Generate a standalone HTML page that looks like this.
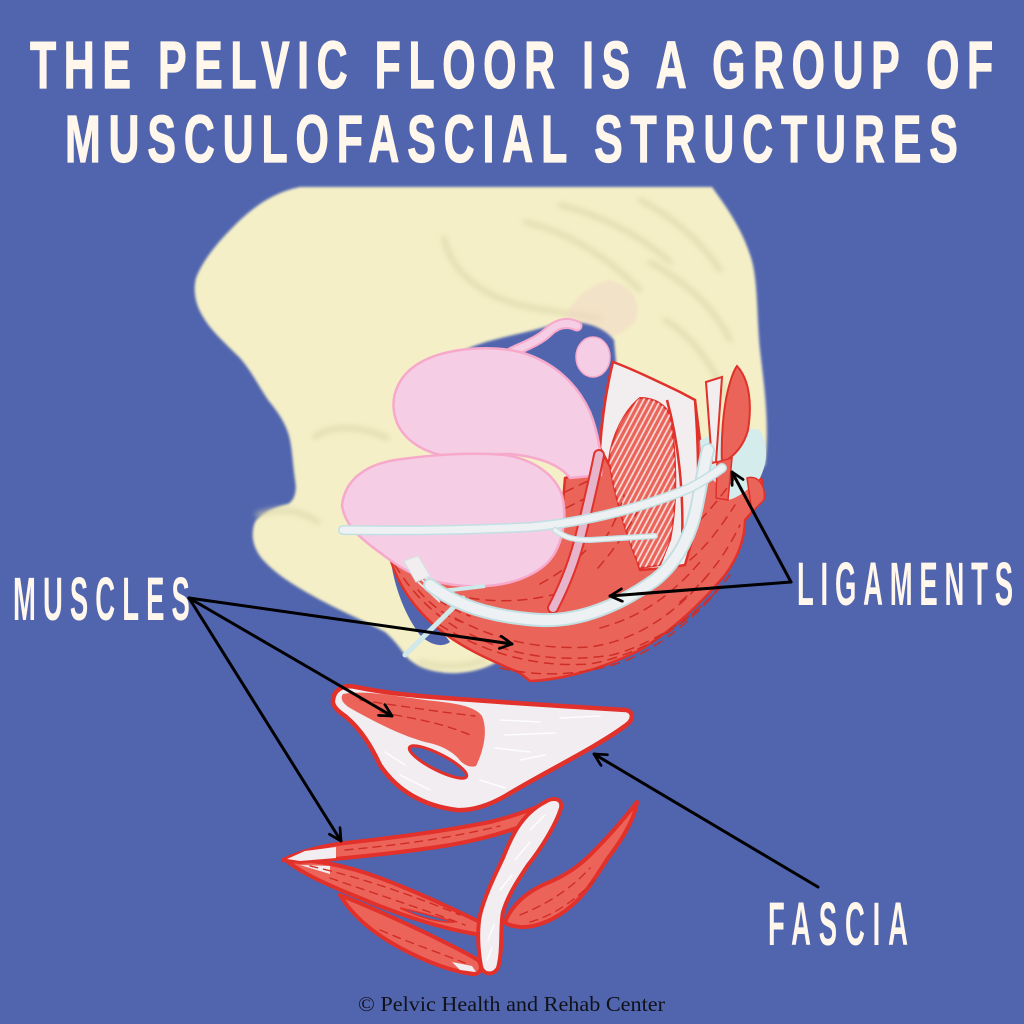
<!DOCTYPE html>
<html><head><meta charset="utf-8"><style>
html,body{margin:0;padding:0;background:#5165AF;}
svg{display:block;}
</style></head><body>
<svg width="1024" height="1024" viewBox="0 0 1024 1024" xmlns="http://www.w3.org/2000/svg">
<defs>
<filter id="blur" x="-20%" y="-20%" width="140%" height="140%"><feGaussianBlur stdDeviation="3"/></filter>
<filter id="soft" x="-5%" y="-5%" width="110%" height="110%"><feGaussianBlur stdDeviation="1.2"/></filter>
<marker id="ah" viewBox="0 0 12 12" refX="11" refY="6" markerWidth="15" markerHeight="15" orient="auto" markerUnits="userSpaceOnUse">
<path d="M1.5,1 L11,6 L1.5,11" fill="none" stroke="#000" stroke-width="2.2" stroke-linecap="round" stroke-linejoin="round"/>
</marker>
<pattern id="hatch" width="5" height="5" patternUnits="userSpaceOnUse" patternTransform="rotate(28)">
<line x1="1" y1="0" x2="1" y2="5" stroke="#FBF3F3" stroke-width="1.7"/>
</pattern>
<clipPath id="fanclip"><path d="M640,398 C655,398 665,405 670,415 C676,450 678,500 670,540 L660,565 L640,568 C628,540 615,500 609,460 C612,435 625,410 640,398 Z"/></clipPath>
</defs>

<rect width="1024" height="1024" fill="#5165AF"/>

<!-- Bone -->
<path d="M300,187 L712,187 C725,205 745,232 753,265 C758,290 757,320 760,350 C764,385 770,425 765,465 L700,520 L560,640 L497,662 C480,672 455,675 440,672 C425,670 412,664 405,655 C398,645 392,638 385,632 C370,624 350,615 330,605 C305,592 280,578 265,562 C253,550 250,535 255,522 C262,512 275,507 288,504 C295,500 297,490 295,480 C293,465 292,450 290,440 C287,425 278,412 268,400 C258,385 252,372 240,358 C225,343 210,330 202,315 C195,303 193,290 196,278 C202,262 215,245 235,225 C255,205 275,192 300,187 Z" fill="#F4EFC6" filter="url(#soft)"/>

<!-- bone shading -->
<g fill="none" stroke="#DCD5AA" stroke-width="5" stroke-linecap="round" opacity="0.75" filter="url(#blur)">
<path d="M444,238 C450,270 480,295 520,305 C550,312 580,315 600,318"/>
<path d="M525,222 C560,230 600,250 640,290"/>
<path d="M560,205 C600,215 640,235 670,262"/>
<path d="M640,200 C670,215 700,240 720,270"/>
<path d="M650,262 C680,280 710,300 730,340"/>
<path d="M665,320 C690,335 712,362 728,400"/>
<path d="M315,437 C330,425 360,425 387,438"/>
<path d="M258,515 C280,507 300,510 318,522"/>
<path d="M420,662 C440,668 465,668 485,660"/>
</g>

<!-- faint uterus ghost -->
<path d="M560,336 C565,305 585,285 610,280 C630,285 642,300 636,320 C626,336 600,340 580,342 Z" fill="#F2D8C8" opacity="0.55" filter="url(#soft)"/>

<!-- blue hole -->
<path d="M462,352 C480,340 520,335 548,326 C570,318 600,322 614,340 L616,362 C608,385 603,410 600,445 L560,440 L470,380 Z" fill="#5165AF" filter="url(#soft)"/>

<!-- blue gap near pubis -->
<path d="M392,568 C396,590 405,615 420,635 C430,645 442,648 450,642 C440,628 425,610 412,592 C402,580 396,572 392,568 Z" fill="#5165AF"/>

<!-- Red base muscle -->
<path d="M390,558 C398,585 415,610 440,630 C465,650 495,662 520,673 L530,681 C560,680 600,670 640,650 C670,632 700,605 725,575 C740,555 745,535 745,520 C755,510 764,495 762,480 L740,462 L700,440 L695,400 L640,380 L613,362 C607,385 602,415 600,445 L598,470 L565,478 L560,540 L530,575 L470,588 L413,570 Z" fill="#EB6459" stroke="#E0312A" stroke-width="2.5" stroke-linejoin="round"/>

<!-- white fascia (obturator) region -->
<path d="M613,362 C630,368 655,380 680,392 L695,400 C698,440 700,490 695,530 L685,565 L665,568 L640,570 L612,470 L600,448 C602,420 606,390 613,362 Z" fill="#F2EEF0" stroke="#E0312A" stroke-width="2.5" stroke-linejoin="round"/>
<path d="M667,400 C678,440 684,490 682,545" fill="none" stroke="#E0312A" stroke-width="2.5"/>
<!-- fan -->
<path d="M640,398 C655,398 665,405 670,415 C676,450 678,500 670,540 L660,565 L640,568 C628,540 615,500 609,460 C612,435 625,410 640,398 Z" fill="#EB6459" stroke="#E0312A" stroke-width="2"/>
<rect x="600" y="390" width="90" height="185" fill="url(#hatch)" clip-path="url(#fanclip)" opacity="0.85"/>

<!-- light blue region right -->
<path d="M700,440 C715,432 740,425 760,430 C768,445 768,462 760,478 C748,490 738,498 728,500 C722,488 712,478 702,470 Z" fill="#D5ECEC"/>
<!-- narrow muscles right -->
<path d="M706,382 L722,377 L716,462 L712,463 Z" fill="#F2EEF0" stroke="#E0312A" stroke-width="2"/>
<path d="M737,366 C750,380 752,405 748,430 C744,445 735,456 722,463 C721,440 723,410 728,390 C731,378 734,370 737,366 Z" fill="#EB6459" stroke="#E0312A" stroke-width="2"/>
<path d="M717,462 L732,458 L728,500 L716,498 Z" fill="#EB6459" stroke="#E0312A" stroke-width="1.5"/>
<path d="M747,478 C758,475 766,485 764,500 L752,512 Z" fill="#EB6459" stroke="#E0312A" stroke-width="1.5"/>

<!-- red fibers -->
<g fill="none" stroke="#CE2E26" stroke-width="1.5" stroke-dasharray="9 7" stroke-linecap="round">
<path d="M440,625 C480,650 530,668 590,664 C640,655 690,625 725,580"/>
<path d="M455,618 C495,640 540,650 590,647 C640,640 680,610 712,570"/>
<path d="M470,634 C510,656 560,663 612,655 C650,645 690,620 718,590"/>
<path d="M500,668 C540,677 580,676 622,662 C660,648 700,615 730,575"/>
<path d="M600,628 C640,617 670,597 700,562"/>
<path d="M680,602 C705,582 725,556 740,525"/>
<path d="M395,565 C410,590 430,612 460,630"/>
<path d="M405,566 C420,586 440,606 470,616"/>
<path d="M418,590 C430,604 445,616 462,622"/>
<path d="M470,598 C500,603 530,601 560,593"/>
<path d="M540,584 C560,573 575,562 590,546"/>
<path d="M598,568 C615,548 630,528 642,502"/>
<path d="M604,540 C614,525 620,510 624,495"/>
<path d="M565,492 L590,480"/>
<path d="M566,508 L588,497"/>
<path d="M565,524 L585,513"/>
<path d="M700,520 C715,505 725,490 735,478"/>
<path d="M690,560 C708,545 722,525 735,505"/>
</g>

<!-- pink tube + ovary -->
<path d="M512,352 C525,346 540,340 548,332 C556,324 566,321 577,326" fill="none" stroke="#F6A9CB" stroke-width="11" stroke-linecap="round"/>
<path d="M512,352 C525,346 540,340 548,332 C556,324 566,321 577,326" fill="none" stroke="#F5CDE4" stroke-width="7" stroke-linecap="round"/>
<ellipse cx="593" cy="357" rx="17" ry="20" fill="#F5CDE4" stroke="#F6A9CB" stroke-width="1.5"/>

<!-- pink organs -->
<path d="M396,420 C388,395 400,372 425,360 C450,348 490,345 520,352 C555,362 578,385 590,412 C598,432 602,455 601,475 L570,478 C560,465 540,457 510,454 L440,455 C420,450 402,438 396,420 Z" fill="#F5CDE4" stroke="#F6A9CB" stroke-width="2.5"/>
<path d="M342,505 C345,480 365,465 395,460 C430,455 470,452 505,455 C535,460 555,475 562,495 C568,520 562,550 545,565 C525,582 495,588 465,586 C435,584 410,575 390,560 C370,545 345,530 342,505 Z" fill="#F5CDE4" stroke="#F6A9CB" stroke-width="2.5"/>

<!-- pink strip (vagina) -->
<path d="M599,455 C594,480 588,505 582,530 C575,560 565,585 553,608" fill="none" stroke="#E0312A" stroke-width="12" stroke-linecap="round"/>
<path d="M599,455 C594,480 588,505 582,530 C575,560 565,585 553,608" fill="none" stroke="#E7B5CB" stroke-width="8" stroke-linecap="round"/>

<!-- urethra stub -->
<path d="M404,561 L418,556 L430,576 L416,582 Z" fill="#F2EEF0" stroke="#CFE6E8" stroke-width="1"/>
<g stroke="#F6EEF0" stroke-width="1.6" fill="none">
<path d="M418,582 L440,602"/><path d="M422,580 L446,598"/><path d="M426,578 L452,595"/>
</g>
<!-- lower-left ligament -->
<path d="M405,655 L463,598" stroke="#CFE8EA" stroke-width="5" stroke-linecap="round"/>
<path d="M432,592 C450,590 470,588 485,586" stroke="#CFE8EA" stroke-width="4" fill="none"/>

<!-- ligaments -->
<g fill="none" stroke-linecap="round">
<path d="M430,585 C455,605 490,617 540,620 C580,622 620,605 655,580 C680,560 693,530 698,500 C702,480 705,460 708,450" stroke="#C2E0E3" stroke-width="14"/>
<path d="M430,585 C455,605 490,617 540,620 C580,622 620,605 655,580 C680,560 693,530 698,500 C702,480 705,460 708,450" stroke="#EEF1F3" stroke-width="10"/>
<path d="M343,530 C400,531 470,530 530,527 C590,522 650,505 690,488 C705,480 715,473 722,468" stroke="#C2E0E3" stroke-width="10"/>
<path d="M343,530 C400,531 470,530 530,527 C590,522 650,505 690,488 C705,480 715,473 722,468" stroke="#EEF1F3" stroke-width="7"/>
<path d="M555,530 C565,538 575,540 590,540 L655,536" stroke="#C2E0E3" stroke-width="6"/>
<path d="M555,530 C565,538 575,540 590,540 L655,536" stroke="#EEF1F3" stroke-width="3.5"/>
</g>

<!-- ===== Lower fascia illustrations ===== -->
<!-- upper shape -->
<path d="M333,700 C334,690 343,684 356,687 C380,692 400,694 420,696 C480,701 560,706 626,710 C634,712 634,720 625,726 C595,748 545,772 507,795 C490,805 472,811 457,810 C425,806 398,792 380,765 C372,748 362,730 345,716 C336,710 332,705 333,700 Z" fill="#F1EDF0" stroke="#E2302A" stroke-width="4.5" stroke-linejoin="round"/>
<path d="M343,694 C365,690 395,696 425,700 C455,703 475,706 482,716 C488,730 484,750 476,766 C470,768 463,765 458,758 C450,750 440,745 425,742 C400,735 375,722 350,708 C342,703 340,698 343,694 Z" fill="#EC6459"/>
<ellipse cx="438" cy="762" rx="32" ry="8" transform="rotate(27 438 762)" fill="#5165AF" stroke="#E2302A" stroke-width="3"/>
<g stroke="#FFFFFF" stroke-width="1.5" fill="none" stroke-linecap="round" opacity="0.9">
<path d="M500,720 L540,722"/><path d="M505,735 L555,733"/><path d="M495,748 L530,752"/><path d="M560,718 L600,716"/>
<path d="M480,780 L505,788"/><path d="M400,775 L430,790"/><path d="M385,752 L405,765"/><path d="M520,760 L545,755"/>
</g>
<g stroke="#CE2E26" stroke-width="1.4" fill="none" stroke-dasharray="8 6" stroke-linecap="round">
<path d="M360,700 C400,706 440,712 475,716"/><path d="M380,712 C410,718 440,722 470,735"/>
</g>

<!-- lower shapes -->
<!-- lower band (joins spindle) -->
<path d="M340,895 C365,905 395,918 430,935 C450,945 465,952 478,960 C484,968 480,975 472,974 C445,970 415,957 390,942 C370,930 352,915 340,895 Z" fill="#EC6459" stroke="#E2302A" stroke-width="4" stroke-linejoin="round"/>
<path d="M288,862 C310,858 345,865 380,878 C420,893 455,910 480,922 C485,928 482,935 475,934 C440,928 400,915 365,900 C330,886 305,875 288,862 Z" fill="#EC6459" stroke="#E2302A" stroke-width="4" stroke-linejoin="round"/>
<path d="M400,908 C420,912 440,918 455,922 C440,923 420,918 400,908 Z" fill="#5165AF" stroke="#E2302A" stroke-width="1.5"/>
<path d="M452,962 L472,966 L476,972 L460,970 Z" fill="#F1EDF0"/>
<path d="M283,860 C300,852 320,846 345,843 C390,838 440,832 490,822 C515,816 535,808 555,800 C560,805 555,812 545,817 C520,828 490,838 450,845 C400,853 350,858 300,862 Z" fill="#EC6459" stroke="#E2302A" stroke-width="4" stroke-linejoin="round"/>
<path d="M287,859 L305,851 L336,847 L336,858 L300,861 Z" fill="#F1EDF0"/>
<path d="M300,865 L330,866 L330,874 Z" fill="#F1EDF0"/>
<path d="M545,802 C553,797 563,798 561,808 C556,825 540,850 528,865 C518,880 508,895 503,912 C500,925 503,950 498,968 C493,976 483,975 481,966 C478,950 477,930 480,915 C485,895 495,875 503,858 C510,840 520,815 545,802 Z" fill="#F1EDF0" stroke="#E2302A" stroke-width="4" stroke-linejoin="round"/>
<path d="M505,922 C512,905 525,893 545,884 C565,876 580,866 595,850 C612,833 627,815 637,802 C635,818 622,840 608,858 C595,878 585,895 570,907 C555,920 535,928 520,927 C512,926 507,925 505,922 Z" fill="#EC6459" stroke="#E2302A" stroke-width="4" stroke-linejoin="round"/>
<g stroke="#CE2E26" stroke-width="1.4" fill="none" stroke-dasharray="8 6" stroke-linecap="round">
<path d="M345,850 C400,845 450,838 500,826"/>
<path d="M310,866 C350,875 400,890 460,915"/>
<path d="M330,878 C370,892 420,908 465,925"/>
<path d="M380,930 C410,943 440,953 465,963"/>
<path d="M520,915 C545,905 570,890 590,868"/>
<path d="M530,922 C555,915 575,900 595,880"/>
</g>
<g stroke="#FFFFFF" stroke-width="1.5" fill="none" stroke-linecap="round" opacity="0.9">
<path d="M530,830 L545,815"/><path d="M515,860 L530,842"/><path d="M500,890 L512,875"/><path d="M488,940 L494,925"/><path d="M487,960 L492,948"/>
</g>

<!-- Arrows -->
<g stroke="#000" stroke-width="3" fill="none" stroke-linecap="round" marker-end="url(#ah)">
<line x1="189" y1="598" x2="512" y2="644"/>
<line x1="189" y1="598" x2="392" y2="716"/>
<line x1="189" y1="598" x2="341" y2="841"/>
<line x1="791" y1="582" x2="610" y2="596"/>
<line x1="791" y1="582" x2="732" y2="472"/>
<line x1="818" y1="887" x2="594" y2="754"/>
</g>

<!-- Title -->
<g fill="#FFF7EC" stroke="#FFF7EC" stroke-width="1.2" font-family="'Liberation Sans', 'DejaVu Sans', sans-serif" font-weight="700" font-size="67">
<text transform="translate(30,88) scale(0.64,1)" textLength="1505" lengthAdjust="spacing">THE PELVIC FLOOR IS A GROUP OF</text>
<text transform="translate(65,162) scale(0.64,1)" textLength="1395" lengthAdjust="spacing">MUSCULOFASCIAL STRUCTURES</text>
</g>

<!-- Labels -->
<g fill="#FFF7EC" font-family="'Liberation Sans', 'DejaVu Sans', sans-serif" font-weight="700" font-size="61">
<text transform="translate(13,620) scale(0.45,1)" textLength="393" lengthAdjust="spacing">MUSCLES</text>
<text transform="translate(797,605) scale(0.45,1)" textLength="480" lengthAdjust="spacing">LIGAMENTS</text>
<text transform="translate(768,945) scale(0.45,1)" textLength="311" lengthAdjust="spacing">FASCIA</text>
</g>

<text x="358" y="1011" font-family="'Liberation Serif', 'DejaVu Serif', serif" font-size="21" fill="#111118" textLength="307" lengthAdjust="spacingAndGlyphs">© Pelvic Health and Rehab Center</text>
</svg>
</body></html>
